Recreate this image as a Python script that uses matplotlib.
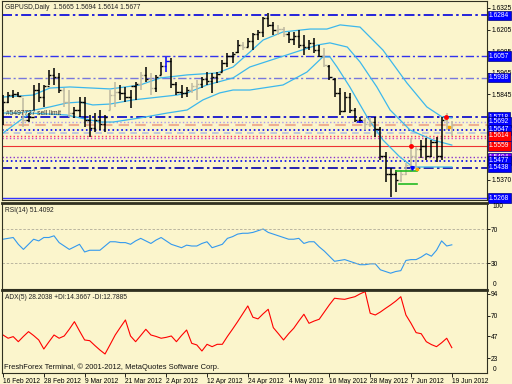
import matplotlib
matplotlib.use("Agg")
import matplotlib.pyplot as plt
from matplotlib.transforms import blended_transform_factory

plt.rcParams["font.family"] = ["Liberation Sans", "DejaVu Sans"]

BG = "#FBF5CC"

# --- daily bars GBPUSD, 16 Feb 2012 .. 19 Jun 2012 ---
high = [1.5841, 1.5858, 1.5869, 1.5858, 1.5825, 1.5741, 1.5897, 1.5908, 1.5897, 1.5980,
        1.5991, 1.5964, 1.5880, 1.5869, 1.5775, 1.5830, 1.5830, 1.5730, 1.5741, 1.5758,
        1.5730, 1.5869, 1.5914, 1.5897, 1.5886, 1.5869, 1.5914, 1.5969, 1.5997, 1.5964,
        1.5953, 1.6025, 1.6053, 1.6047, 1.5914, 1.5897, 1.5886, 1.5908, 1.5925, 1.5942,
        1.5969, 1.5964, 1.5969, 1.6036, 1.6075, 1.6081, 1.6147, 1.6136, 1.6158, 1.6186,
        1.6203, 1.6275, 1.6297, 1.6247, 1.6230, 1.6219, 1.6192, 1.6192, 1.6203, 1.6175,
        1.6147, 1.6158, 1.6119, 1.6103, 1.6008, 1.5936, 1.5880, 1.5858, 1.5853, 1.5769,
        1.5719, 1.5714, 1.5719, 1.5719, 1.5664, 1.5525, 1.5436, 1.5424, 1.5424, 1.5464,
        1.5603, 1.5553, 1.5591, 1.5603, 1.5591, 1.5608, 1.5719, 1.5741, 1.5694]
low = [1.5675, 1.5797, 1.5825, 1.5830, 1.5664, 1.5691, 1.5758, 1.5803, 1.5775, 1.5897,
       1.5897, 1.5853, 1.5775, 1.5719, 1.5714, 1.5719, 1.5664, 1.5608, 1.5636, 1.5647,
       1.5636, 1.5758, 1.5775, 1.5814, 1.5803, 1.5769, 1.5814, 1.5869, 1.5914, 1.5841,
       1.5858, 1.5953, 1.5969, 1.5880, 1.5841, 1.5825, 1.5830, 1.5853, 1.5814, 1.5880,
       1.5897, 1.5853, 1.5908, 1.5969, 1.5997, 1.6019, 1.6075, 1.6091, 1.6108, 1.6091,
       1.6147, 1.6164, 1.6219, 1.6175, 1.6175, 1.6164, 1.6131, 1.6119, 1.6103, 1.6064,
       1.6091, 1.6075, 1.6053, 1.5997, 1.5925, 1.5830, 1.5730, 1.5747, 1.5741, 1.5691,
       1.5686, 1.5647, 1.5664, 1.5608, 1.5480, 1.5358, 1.5274, 1.5302, 1.5358, 1.5397,
       1.5413, 1.5424, 1.5491, 1.5480, 1.5497, 1.5469, 1.5480, 1.5647, 1.5614]
opn = [1.5760, 1.5800, 1.5840, 1.5845, 1.5835, 1.5700, 1.5720, 1.5870, 1.5830, 1.5890,
       1.5950, 1.5940, 1.5870, 1.5800, 1.5740, 1.5760, 1.5800, 1.5700, 1.5660, 1.5700,
       1.5680, 1.5760, 1.5840, 1.5860, 1.5850, 1.5830, 1.5890, 1.5900, 1.5950, 1.5930,
       1.5880, 1.5955, 1.6000, 1.6030, 1.5900, 1.5860, 1.5850, 1.5870, 1.5890, 1.5900,
       1.5930, 1.5920, 1.5940, 1.5970, 1.6020, 1.6060, 1.6080, 1.6120, 1.6110, 1.6140,
       1.6180, 1.6190, 1.6270, 1.6230, 1.6200, 1.6210, 1.6180, 1.6150, 1.6170, 1.6120,
       1.6110, 1.6130, 1.6090, 1.6060, 1.6000, 1.5930, 1.5850, 1.5750, 1.5830, 1.5760,
       1.5700, 1.5700, 1.5680, 1.5690, 1.5650, 1.5500, 1.5400, 1.5400, 1.5370, 1.5400,
       1.5450, 1.5500, 1.5540, 1.5560, 1.5500, 1.5580, 1.5500, 1.5700, 1.5665]
cls = [1.5800, 1.5840, 1.5845, 1.5835, 1.5700, 1.5720, 1.5870, 1.5830, 1.5890, 1.5950,
       1.5940, 1.5870, 1.5800, 1.5740, 1.5760, 1.5800, 1.5700, 1.5660, 1.5700, 1.5680,
       1.5720, 1.5840, 1.5860, 1.5850, 1.5830, 1.5890, 1.5900, 1.5950, 1.5930, 1.5880,
       1.5940, 1.6000, 1.6030, 1.5900, 1.5860, 1.5850, 1.5870, 1.5890, 1.5900, 1.5930,
       1.5920, 1.5940, 1.5960, 1.6020, 1.6060, 1.6070, 1.6120, 1.6110, 1.6140, 1.6180,
       1.6190, 1.6270, 1.6230, 1.6200, 1.6210, 1.6180, 1.6150, 1.6170, 1.6120, 1.6110,
       1.6130, 1.6090, 1.6060, 1.6010, 1.5940, 1.5850, 1.5750, 1.5830, 1.5760, 1.5700,
       1.5700, 1.5680, 1.5690, 1.5650, 1.5500, 1.5400, 1.5400, 1.5370, 1.5400, 1.5450,
       1.5500, 1.5540, 1.5560, 1.5500, 1.5580, 1.5500, 1.5700, 1.5670, 1.5677]
bar_kind = ("kkkkgkkkkk" "kkggkkkkkk" "kggkkkkgkg" "kkbkkkkggk" "kkkkkkkgkk"
            "kkkkggkkkk" "kkkgkkkkkk" "kggkkkkkgg" "ggkkkkkgg")

# moving average lines (bar index, price)
ma1_x = [0, 5.9, 9.2, 13.1, 21.0, 26.9, 30.8, 36.1, 42.0, 45.1, 48.4, 51.0, 54.9, 60.2,
         63.5, 66.1, 70.0, 74.5, 79.2, 83.1, 86.1, 88.0]
ma1_y = [1.5830, 1.5841, 1.5880, 1.5886, 1.5875, 1.5897, 1.5936, 1.5953, 1.5964, 1.5997,
         1.6080, 1.6147, 1.6192, 1.6208, 1.6208, 1.6231, 1.6219, 1.6091, 1.5908, 1.5775,
         1.5719, 1.5714]
ma2_x = [0, 3.3, 9.2, 12.5, 15.1, 17.6, 21.0, 25.5, 34.1, 36.1, 40.0, 45.1, 48.4, 61.6,
         64.1, 67.5, 70.0, 73.3, 75.9, 79.8, 84.3, 88.0]
ma2_y = [1.5741, 1.5741, 1.5775, 1.5797, 1.5802, 1.5786, 1.5791, 1.5814, 1.5841, 1.5853,
         1.5897, 1.5936, 1.5997, 1.6119, 1.6131, 1.6108, 1.6025, 1.5886, 1.5758, 1.5647,
         1.5591, 1.5563]
ma3_x = [0, 5.3, 12.5, 15.1, 19.0, 21.6, 26.9, 32.2, 36.1, 39.2, 42.5, 45.1, 48.4, 54.9,
         59.6, 62.7, 64.1, 65.5, 68.0, 71.4, 74.5, 77.8, 80.4, 88.0]
ma3_y = [1.5630, 1.5741, 1.5730, 1.5714, 1.5691, 1.5691, 1.5714, 1.5741, 1.5758, 1.5814,
         1.5853, 1.5869, 1.5869, 1.5897, 1.5969, 1.6053, 1.6053, 1.5997, 1.5886, 1.5719,
         1.5591, 1.5497, 1.5441, 1.5441]

# horizontal levels: price, colour, style, width
lvl_price = [1.6284, 1.6057, 1.5938, 1.5718, 1.5692, 1.5675, 1.5647, 1.5630, 1.5614,
             1.5602, 1.5559, 1.5494, 1.5477, 1.5438, 1.5268]
lvl_color = ["#0000DD", "#3333EE", "#7777DD", "#0000CC", "#AA99EE", "#F0B090", "#0000EE",
             "#B8C0E0", "#FF3355", "#CC44CC", "#EE3333", "#8833CC", "#0000EE", "#0000AA",
             "#3333FF"]
DD = (0, (6, 2, 1.5, 2))
lvl_style = [DD, DD, DD, DD, ":", (0, (5, 3)), ":", (0, (4, 3)), ":", ":", "-", ":", ":",
             DD, "-"]
lvl_width = [1.2, 1.0, 1.0, 1.2, 1.0, 1.5, 1.2, 1.2, 1.0, 1.0, 0.8, 1.0, 1.2, 1.2, 1.0]

box_price = [1.6284, 1.6057, 1.5938, 1.5718, 1.5692, 1.5647, 1.5614, 1.5559, 1.5494,
             1.5477, 1.5438, 1.5268]
box_color = ["#0000FF", "#0000FF", "#0000FF", "#0000FF", "#0000FF", "#0000FF", "#FF0000",
             "#FF0000", "#8000FF", "#0000FF", "#0000FF", "#0000FF"]
price_ticks = [1.6325, 1.6205, 1.6085, 1.5965, 1.5845, 1.5370]

rsi = [58, 59, 60, 52, 46, 52, 58, 56, 60, 60, 62, 54, 50, 46, 49, 52, 43, 45, 45, 45,
       50, 55, 55, 54, 54, 52, 56, 59, 56, 53, 57, 60, 56, 52, 50, 48, 51, 50, 50, 53,
       55, 48, 50, 52, 59, 61, 64, 65, 65, 66, 68, 70, 66, 64, 62, 60, 58, 58, 59, 53,
       55, 55, 49, 44, 38, 32, 33, 34, 32, 30, 28, 28, 29, 29, 22, 20, 18, 20, 21, 33,
       34, 34, 37, 41, 38, 45, 56, 50, 51.4]
adx = [48.6, 45, 46.8, 41.2, 47, 52.3, 48, 43.1, 33.1, 41, 48.6, 45, 47.5, 55, 63.3, 53,
       43.1, 42.3, 37, 32, 27.6, 38, 48.6, 57, 65.2, 47.5, 41.2, 48, 54.9, 48.6, 47, 45,
       46, 47.5, 41.2, 48, 54.1, 39.4, 37.6, 30.9, 38.3, 35.7, 38.3, 38.3, 47, 55, 63.3,
       72, 80.7, 68.2, 66.4, 72, 77, 56.7, 50, 43.1, 50, 56, 64, 71.5, 61.5, 64, 66, 74,
       82, 89.2, 88.5, 88, 89.5, 90.9, 94, 96.5, 72.6, 70.7, 74, 78, 81.8, 86, 90.9, 70.7,
       61.5, 51.2, 50, 41.2, 38, 35.7, 40, 45, 34.6]

date_idx = [0, 8, 16, 24, 32, 40, 48, 56, 64, 72, 80, 88]
date_lbl = ["16 Feb 2012", "28 Feb 2012", "9 Mar 2012", "21 Mar 2012", "2 Apr 2012",
            "12 Apr 2012", "24 Apr 2012", "4 May 2012", "16 May 2012", "28 May 2012",
            "7 Jun 2012", "19 Jun 2012"]

FS = 4.8
W, H = 512, 384
fig = plt.figure(figsize=(W / 100, H / 100), dpi=100, facecolor=BG)


def px_axes(top, bottom):
    return fig.add_axes([2 / W, 1 - bottom / H, 485 / W, (bottom - top) / H])


ax = px_axes(1, 200)
ax_r = px_axes(203, 288.5)
ax_a = px_axes(290, 373)
for a in (ax, ax_r, ax_a):
    a.set_facecolor(BG)
    a.set_xlim(-0.2, 94.9)
    a.set_xticks([])
    for s in a.spines.values():
        s.set_color("#303020")
        s.set_linewidth(0.8)
    a.yaxis.tick_right()
    a.tick_params(axis="y", labelsize=FS, length=2, pad=1, width=0.6)
ax_r.spines["top"].set_linewidth(2)
ax_a.spines["top"].set_linewidth(2)

# main price panel
ax.set_ylim(1.52575, 1.63639)
for p, c, st, lw in zip(lvl_price, lvl_color, lvl_style, lvl_width):
    ax.axhline(p, color=c, ls=st, lw=lw, zorder=1)

for xs, ys in ((ma1_x, ma1_y), (ma2_x, ma2_y), (ma3_x, ma3_y)):
    ax.plot(xs, ys, color="#3CB8EC", lw=0.9, zorder=2)

kind_col = {"k": "#000000", "g": "#BDB8A0", "b": "#0000FF"}
for i in range(len(high)):
    c = kind_col[bar_kind[i]]
    ax.vlines(i, low[i], high[i], color=c, lw=1.1, zorder=3)
    ax.hlines(opn[i], i - 0.45, i, color=c, lw=1.0, zorder=3)
    ax.hlines(cls[i], i, i + 0.45, color=c, lw=1.0, zorder=3)

ax.plot([77.1, 81.2], [1.5419, 1.5419], color="#22BB22", lw=1.2, zorder=4)
ax.plot([77.7, 81.2], [1.5347, 1.5347], color="#22BB22", lw=1.2, zorder=4)
ax.plot([80, 86.9], [1.5556, 1.5719], "o", color="#FF0000", ms=2.5, ls="none", zorder=5)
ax.plot([81.2, 87.5], [1.5429, 1.5663], "s", color="#FFA500", ms=1.5, ls="none", zorder=5)
ax.plot([80.2], [1.5435], "v", color="#0000FF", ms=2.5, zorder=5)
ax.plot([70], [1.5692], "_", color="#0000FF", ms=4, mew=1.2, zorder=5)

ax.set_yticks(price_ticks)
ax.set_yticklabels([f"{v:.4f}" for v in price_ticks])
ax.text(0.006, 0.985, "GBPUSD,Daily  1.5665 1.5694 1.5614 1.5677", transform=ax.transAxes,
        fontsize=FS, va="top", ha="left", color="#202020")
ax.text(0.6, 1.5741, "#5497737 sell limit", fontsize=FS, va="center", ha="left",
        color="#303030")

tr = blended_transform_factory(ax.transAxes, ax.transData)
for p, c in zip(box_price, box_color):
    ax.text(1.004, p, f"{p:.4f}", transform=tr, fontsize=FS, color="white", va="center",
            ha="left", clip_on=False, zorder=6,
            bbox=dict(boxstyle="square,pad=0.2", fc=c, ec="#000080", lw=0.5))

# RSI panel
ax_r.set_ylim(0, 100.6)
ax_r.plot(range(len(rsi)), rsi, color="#3399EE", lw=0.8)
for lv in (70, 30):
    ax_r.axhline(lv, color="#B0AC98", ls=(0, (3, 2)), lw=0.6)
ax_r.set_yticks([70, 30])
ax_r.set_yticklabels(["70", "30"])
trr = blended_transform_factory(ax_r.transAxes, ax_r.transData)
ax_r.text(1.012, 100.6, "100", transform=trr, fontsize=FS, va="top", ha="left")
ax_r.text(1.012, 0, "0", transform=trr, fontsize=FS, va="bottom", ha="left")
ax_r.text(0.006, 0.95, "RSI(14) 51.4092", transform=ax_r.transAxes, fontsize=FS,
          va="top", ha="left", color="#202020")

# ADX panel
ax_a.set_ylim(6.6, 98.3)
ax_a.plot(range(len(adx)), adx, color="#FF0000", lw=0.8)
ax_a.set_yticks([94, 70, 47, 23])
ax_a.set_yticklabels(["94", "70", "47", "23"])
tra = blended_transform_factory(ax_a.transAxes, ax_a.transData)
ax_a.text(1.012, 6.6, "0", transform=tra, fontsize=FS, va="bottom", ha="left")
ax_a.text(0.006, 0.95, "ADX(5) 28.2038 +DI:14.3667 -DI:12.7885", transform=ax_a.transAxes,
          fontsize=FS, va="top", ha="left", color="#202020")
ax_a.text(0.004, 0.02, "FreshForex Terminal, \u00a9 2001-2012, MetaQuotes Software Corp.",
          transform=ax_a.transAxes, fontsize=FS + 0.6, va="bottom", ha="left",
          color="#101010")

ax_a.set_xticks(date_idx)
ax_a.set_xticklabels(date_lbl, ha="left")
ax_a.tick_params(axis="x", labelsize=FS, length=3, pad=0.5, width=0.6)

fig.savefig("out.png", dpi=100, facecolor=BG)
